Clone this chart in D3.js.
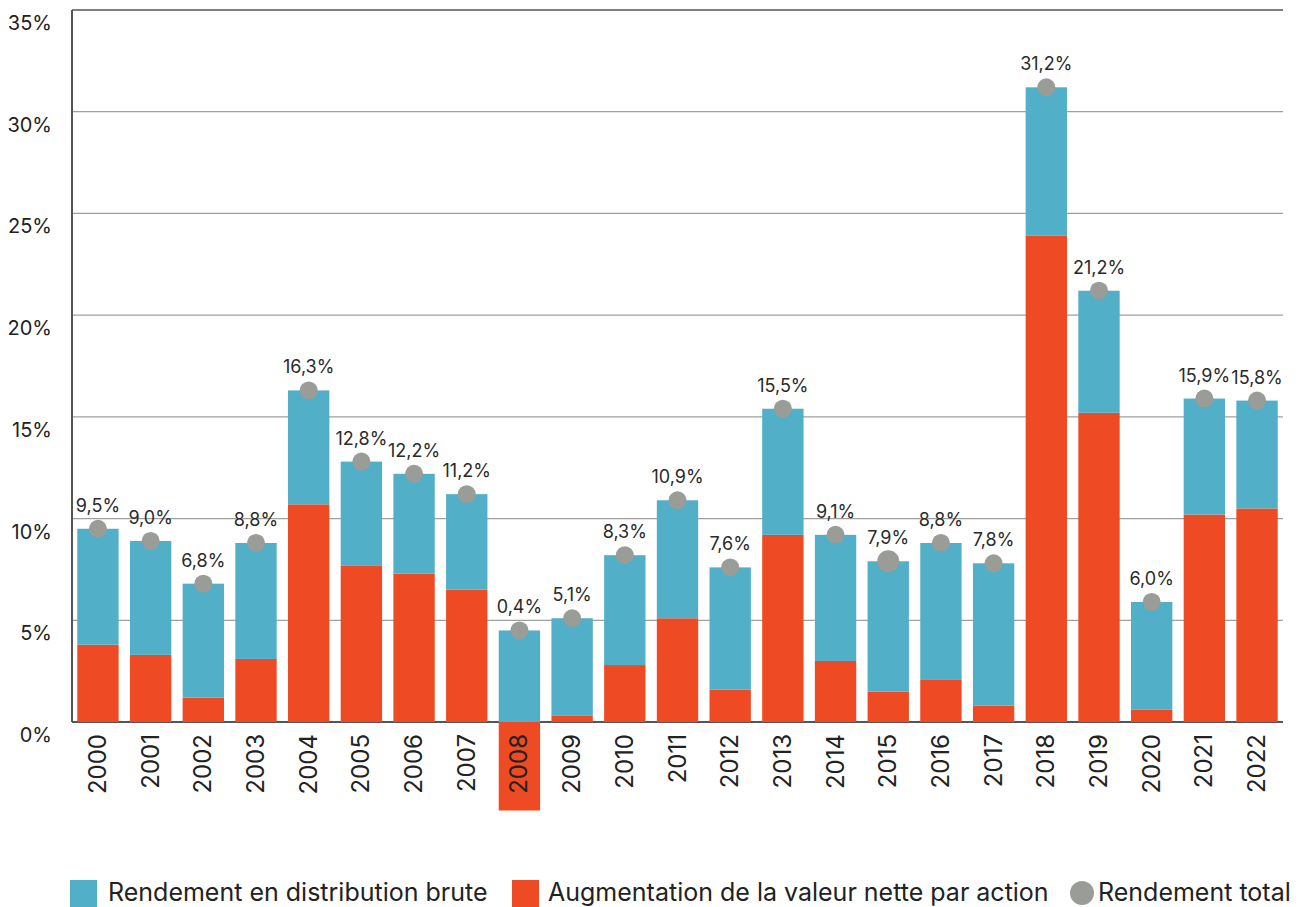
<!DOCTYPE html>
<html>
<head>
<meta charset="utf-8">
<script src="https://cdn.jsdelivr.net/npm/d3@7"></script>
<style>
  body { margin: 0; background: #fff; }
  svg { display: block; font-family: Inter, "Open Sans", sans-serif; }
</style>
</head>
<body>
<svg id="chart" width="1304" height="907"></svg>
<script>
// data
var years = ['2000', '2001', '2002', '2003', '2004', '2005', '2006', '2007', '2008', '2009', '2010', '2011',
  '2012', '2013', '2014', '2015', '2016', '2017', '2018', '2019', '2020', '2021', '2022']
var augmentation = [3.8, 3.3, 1.2, 3.1, 10.7, 7.7, 7.3, 6.5, -4.35, 0.3, 2.8, 5.1, 1.6, 9.2, 3.0, 1.5, 2.1, 0.8, 23.9, 15.2, 0.6, 10.2, 10.5]
var distribution = [5.7, 5.6, 5.6, 5.7, 5.6, 5.1, 4.9, 4.7, 4.5, 4.8, 5.4, 5.8, 6.0, 6.2, 6.2, 6.4, 6.7, 7.0, 7.3, 6.0, 5.3, 5.7, 5.3]
var totalReturn = [9.5, 9.0, 6.8, 8.8, 16.3, 12.8, 12.2, 11.2, 0.4, 5.1, 8.3, 10.9, 7.6, 15.5, 9.1, 7.9, 8.8, 7.8, 31.2, 21.2, 6.0, 15.9, 15.8]
var yTicks = [0, 5, 10, 15, 20, 25, 30, 35]
var legendLabels = ['Rendement en distribution brute', 'Augmentation de la valeur nette par action', 'Rendement total']

var blue = '#52afc8'
var red = '#ee4a23'
var grey = '#9a9c97'

function draw () {
  var svg = d3.select('#chart')
  var left = 72, right = 1283, plotTop = 10, zeroY = 722

  var x = d3.scaleBand().domain(years).range([left, right]).paddingInner(0.215).paddingOuter(0.1)
  var y = d3.scaleLinear().domain([0, 35]).range([zeroY, plotTop])

  var fmt = function (v) { return d3.format('.1f')(v).replace('.', ',') + '%' }

  // gridlines
  svg.append('g')
    .selectAll('line')
    .data(yTicks)
    .join('line')
    .attr('x1', left).attr('x2', right)
    .attr('y1', d => y(d)).attr('y2', d => y(d))
    .attr('stroke', d => (d === 0 || d === 35) ? '#555' : '#a0a0a0')
    .attr('stroke-width', d => d === 0 ? 2 : 1.3)

  // left axis line
  svg.append('line')
    .attr('x1', left).attr('x2', left).attr('y1', plotTop).attr('y2', zeroY)
    .attr('stroke', '#555').attr('stroke-width', 2)

  // y tick labels
  svg.append('g')
    .selectAll('text')
    .data(yTicks)
    .join('text')
    .attr('x', 52)
    .attr('y', d => y(d) + 20)
    .attr('text-anchor', 'end')
    .attr('font-size', 20)
    .attr('fill', '#222')
    .text(d => d + '%')

  var rows = years.map((yr, i) => ({ year: yr, aug: augmentation[i], dist: distribution[i], total: totalReturn[i] }))
  var cx = d => x(d.year) + x.bandwidth() / 2
  var topOf = d => Math.max(d.aug, 0) + d.dist

  // red bars (augmentation)
  svg.append('g')
    .selectAll('rect')
    .data(rows)
    .join('rect')
    .attr('x', d => x(d.year))
    .attr('width', x.bandwidth())
    .attr('y', d => y(Math.max(d.aug, 0)))
    .attr('height', d => Math.abs(y(d.aug) - y(0)))
    .attr('fill', red)

  // blue bars (distribution) stacked on the positive part
  svg.append('g')
    .selectAll('rect')
    .data(rows)
    .join('rect')
    .attr('x', d => x(d.year))
    .attr('width', x.bandwidth())
    .attr('y', d => y(topOf(d)))
    .attr('height', d => y(Math.max(d.aug, 0)) - y(topOf(d)))
    .attr('fill', blue)

  // total dots
  svg.append('g')
    .selectAll('circle')
    .data(rows)
    .join('circle')
    .attr('cx', cx)
    .attr('cy', d => y(topOf(d)))
    .attr('r', d => d.year === '2015' ? 11 : 9)
    .attr('fill', grey)

  // value labels
  svg.append('g')
    .selectAll('text')
    .data(rows)
    .join('text')
    .attr('x', cx)
    .attr('y', d => y(topOf(d)) - 17)
    .attr('text-anchor', 'middle')
    .attr('font-size', 18)
    .attr('fill', '#2a2a2a')
    .text(d => fmt(d.total))

  // year labels
  svg.append('g')
    .selectAll('text')
    .data(years)
    .join('text')
    .attr('transform', d => 'translate(' + (x(d) + x.bandwidth() / 2 + 8) + ',' + (zeroY + 12) + ') rotate(-90)')
    .attr('text-anchor', 'end')
    .attr('font-size', 24)
    .attr('fill', '#222')
    .text(d => d)

  // legend
  var lg = svg.append('g').attr('font-size', 25).attr('fill', '#222')
  lg.append('rect').attr('x', 70).attr('y', 880).attr('width', 27).attr('height', 27).attr('fill', blue)
  lg.append('text').attr('x', 108).attr('y', 901).text(legendLabels[0])
  lg.append('rect').attr('x', 512).attr('y', 880).attr('width', 27).attr('height', 27).attr('fill', red)
  lg.append('text').attr('x', 548).attr('y', 901).text(legendLabels[1])
  lg.append('circle').attr('cx', 1082).attr('cy', 893).attr('r', 12).attr('fill', grey)
  lg.append('text').attr('x', 1098).attr('y', 901).text(legendLabels[2])
}

draw()
</script>
</body>
</html>
